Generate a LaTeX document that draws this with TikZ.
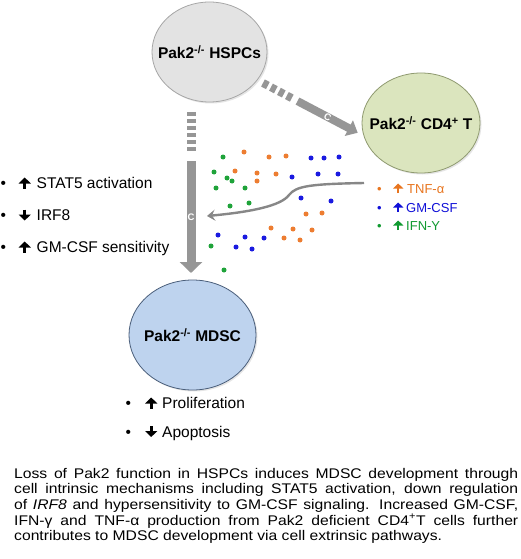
\documentclass[tikz,border=0pt]{standalone}
\usepackage{fontspec}
\setmainfont{Liberation Sans}
\newfontfamily\capfont[FakeStretch=1.12]{Liberation Sans}
\usetikzlibrary{arrows.meta, shapes.geometric, shadows}
\definecolor{hspcfill}{HTML}{E3E3E3}
\definecolor{hspcline}{HTML}{A6A6A6}
\definecolor{cdtfill}{HTML}{DBE5BE}
\definecolor{cdtline}{HTML}{8F9A70}
\definecolor{mdscfill}{HTML}{BED3EE}
\definecolor{mdscline}{HTML}{4A5E7A}
\definecolor{shaftgrey}{HTML}{969696}
\definecolor{dotorange}{HTML}{ED7D31}
\definecolor{dotblue}{HTML}{1A1AE0}
\definecolor{dotgreen}{HTML}{1FA33A}
\definecolor{txtorange}{HTML}{E8751F}
\definecolor{txtblue}{HTML}{1010D8}
\definecolor{txtgreen}{HTML}{109A30}
% heavy up/down arrows used in the lists
\newcommand{\uparr}{\tikz[baseline=0pt]\draw[draw=black, line width=2.7pt, -{Triangle[width=12pt, length=6pt]}] (0pt,0pt) -- (0pt,11pt);}
\newcommand{\dnarr}{\tikz[baseline=0pt]\draw[draw=black, line width=2.7pt, -{Triangle[width=12pt, length=6pt]}] (0pt,11pt) -- (0pt,0pt);}
\newcommand{\legarr}[1]{\tikz[baseline=0pt]\draw[draw=#1, line width=2.3pt, -{Triangle[width=10pt, length=5pt]}] (0pt,0pt) -- (0pt,9.5pt);}
\tikzset{
    cell/.style={ellipse, draw, line width=0.8pt, inner sep=-14pt, font=\fontsize{15.5}{18}\selectfont\bfseries,
        drop shadow={shadow xshift=1.5pt, shadow yshift=-1.5pt, opacity=0.2}},
    hspccell/.style={cell, fill=hspcfill, draw=hspcline, minimum width=115pt, minimum height=100pt},
    cdtcell/.style={cell, fill=cdtfill, draw=cdtline, minimum width=118pt, minimum height=100pt},
    mdsccell/.style={cell, fill=mdscfill, draw=mdscline, minimum width=127pt, minimum height=110pt},
    dashshaft/.style={draw=shaftgrey, line width=9pt},
    fatarrow/.style={draw=shaftgrey, line width=9pt, -{Triangle[width=22pt, length=11pt]}},
    slimarrow/.style={draw=shaftgrey, line width=8pt, -{Triangle[width=17pt, length=10pt]}},
    thinarrow/.style={draw=shaftgrey!90!black, line width=2.4pt, -{Stealth[width=11pt, length=8pt, inset=3pt]}},
    clabel/.style={text=white, inner sep=0pt, font=\fontsize{9.5}{10}\selectfont\bfseries},
    bitem/.style={anchor=base west, inner sep=0pt, font=\fontsize{15.5}{18}\selectfont},
    litem/.style={anchor=base west, inner sep=0pt, font=\fontsize{13}{15}\selectfont},
}
\begin{document}
\begin{tikzpicture}[x=1pt, y=-1pt]
    \fill[white] (0,0) rectangle (520,559);
    \useasboundingbox (0,0) rectangle (520,559);

    % Cells
    \node[hspccell] (hspc) at (209.5,52) {Pak2\textsuperscript{-/-} HSPCs};
    \node[cdtcell] (cdt) at (421,123) {Pak2\textsuperscript{-/-} CD4\textsuperscript{+} T};
    \node[mdsccell] (mdsc) at (192.5,335) {Pak2\textsuperscript{-/-} MDSC};

    % Cytokines
    \foreach \p in {(223,157),(214,172),(227,178),(232,181),(216,188),(245,188),(230,206),(249,203),(211,246),(224,270)}
        \fill[dotgreen] \p circle (2.5pt);
    \foreach \p in {(244,152),(269,157),(286,156),(235,171),(257,173),(257,181),(276,174),(306,214),(322,213),(271,228),(293,229),(312,230),(284,238),(300,240)}
        \fill[dotorange] \p circle (2.5pt);
    \foreach \p in {(311,158),(324,158),(339,157),(292,177),(318,174),(338,174),(301,198),(331,201),(218,235),(245,237),(264,238),(236,247),(252,249)}
        \fill[dotblue] \p circle (2.5pt);

    % Cell intrinsic
    \coordinate (v1) at (191,112);
    \coordinate (v2) at (191,153);
    \coordinate (v3) at (191,161);
    \coordinate (v4) at (191,273);
    \draw[dashshaft, dash pattern=on 4pt off 3pt] (v1) -- (v2);
    \draw[fatarrow] (v3) -- node[clabel] {C} (v4);

    \coordinate (d1) at (263,83);
    \coordinate (d2) at (294,99.3);
    \coordinate (d3) at (297.5,101.1);
    \coordinate (d4) at (357.7,132.8);
    \draw[dashshaft, line width=8pt, dash pattern=on 5.5pt off 3.5pt] (d1) -- (d2);
    \draw[slimarrow] (d3) -- node[clabel, sloped] {C} (d4);

    % Cell extrinsic
    \coordinate (c1) at (364,183);
    \coordinate (c2) at (207,216);
    \draw[thinarrow] (c1) .. controls (310,184) and (296,186) .. (289,195)
        .. controls (281,206) and (250,212) .. (c2);

    % Legend
    \node[litem, text=txtorange] (tnf) at (377,193) {\makebox[16pt][l]{•}\makebox[14pt][l]{\legarr{txtorange}}TNF-α};
    \node[litem, text=txtblue] (gmcsf) at (377,212) {\makebox[16pt][l]{•}\makebox[13pt][l]{\legarr{txtblue}}GM-CSF};
    \node[litem, text=txtgreen] (ifn) at (377,230) {\makebox[16pt][l]{•}\makebox[13pt][l]{\legarr{txtgreen}}IFN-Y};

    % Intrinsic changes
    \node[bitem] (stat) at (0.5,188.5) {\makebox[18pt][l]{•}\makebox[18pt][l]{\uparr}STAT5 activation};
    \node[bitem] (irf) at (0.5,220.5) {\makebox[18pt][l]{•}\makebox[18pt][l]{\dnarr}IRF8};
    \node[bitem] (sens) at (0.5,252.5) {\makebox[18pt][l]{•}\makebox[18pt][l]{\uparr}GM-CSF sensitivity};

    % MDSC changes
    \node[bitem] (prol) at (125.5,408.5) {\makebox[19.5pt][l]{•}\makebox[17pt][l]{\uparr}Proliferation};
    \node[bitem] (apop) at (125.5,437) {\makebox[19.5pt][l]{•}\makebox[17pt][l]{\dnarr}Apoptosis};

    % Caption
    \node[anchor=base west, inner sep=0pt] (caption) at (14,478) {\parbox[t]{504pt}{\capfont\fontsize{14}{15.7}\selectfont
        Loss of Pak2 function in HSPCs induces MDSC development through\linebreak
        cell intrinsic mechanisms including STAT5 activation, down regulation\linebreak
        of \textit{IRF8} and hypersensitivity to GM-CSF signaling. Increased GM-CSF,\linebreak
        IFN-γ and TNF-α production from Pak2 deficient CD4\textsuperscript{+}T cells further\linebreak
        contributes to MDSC development via cell extrinsic pathways.}};
\end{tikzpicture}
\end{document}
